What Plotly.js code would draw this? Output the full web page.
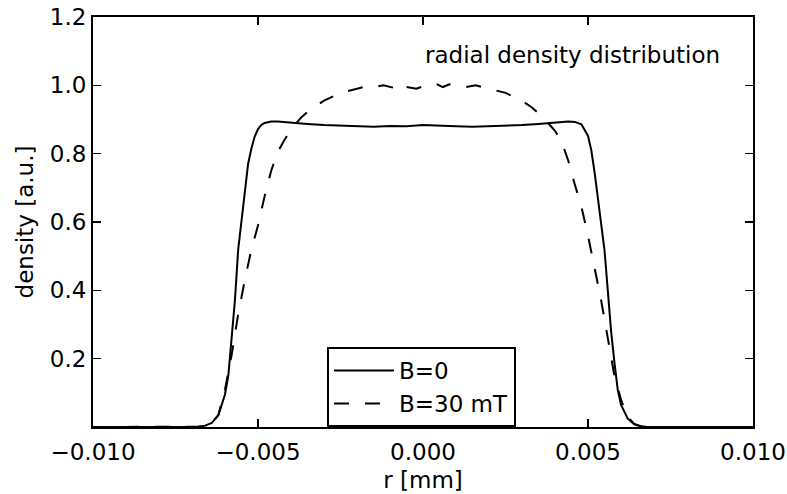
<!DOCTYPE html>
<html>
<head>
<meta charset="utf-8">
<script src="https://cdn.plot.ly/plotly-3.0.1.min.js"></script>
<style>html,body{margin:0;padding:0;background:#fff}#chart{width:787px;height:494px}</style>
</head>
<body>
<div id="chart"></div>
<script>
// B = 0 (solid)
var rB0 = [-0.0100,-0.0080,-0.0070,-0.0068,-0.0066,-0.0064,-0.0062,-0.0060,-0.0059,-0.0058,-0.0057,-0.0056,-0.0055,-0.0054,-0.0053,-0.0052,-0.0051,-0.0050,-0.0049,-0.0048,-0.0046,-0.0044,-0.0040,-0.0035,-0.0030,-0.0025,-0.0020,-0.0015,-0.0010,-0.0005,0.0000,0.0005,0.0010,0.0015,0.0020,0.0025,0.0030,0.0035,0.0040,0.0044,0.0046,0.0048,0.0050,0.0051,0.0052,0.0053,0.0054,0.0055,0.0056,0.0057,0.0058,0.0059,0.0060,0.0062,0.0064,0.0066,0.0068,0.0080,0.0100];
var densB0 = [0,0,0,0.001,0.004,0.012,0.035,0.095,0.15,0.26,0.37,0.52,0.61,0.70,0.77,0.815,0.85,0.872,0.884,0.890,0.894,0.894,0.890,0.887,0.884,0.882,0.880,0.879,0.881,0.880,0.884,0.881,0.880,0.879,0.880,0.882,0.884,0.887,0.891,0.894,0.893,0.886,0.852,0.81,0.745,0.67,0.59,0.518,0.40,0.28,0.19,0.11,0.065,0.025,0.008,0.002,0,0,0];

// B = 30 mT (dashed)
var rB30 = [-0.0100,-0.0070,-0.0068,-0.0066,-0.0064,-0.0062,-0.0060,-0.0058,-0.0056,-0.0054,-0.0052,-0.0050,-0.0048,-0.0046,-0.0044,-0.0042,-0.0040,-0.0037,-0.0034,-0.0030,-0.0025,-0.0020,-0.0017,-0.0015,-0.0012,-0.0009,-0.0007,-0.0005,-0.0002,0.0000,0.0002,0.0004,0.0006,0.0008,0.0010,0.0013,0.0016,0.0020,0.0025,0.0030,0.0033,0.0036,0.0040,0.0042,0.0044,0.0046,0.0048,0.0050,0.0052,0.0054,0.0056,0.0058,0.0060,0.0062,0.0064,0.0066,0.0068,0.0100];
var densB30 = [0,0,0.001,0.004,0.012,0.035,0.11,0.21,0.33,0.43,0.52,0.59,0.675,0.75,0.805,0.84,0.87,0.905,0.93,0.955,0.978,0.99,0.998,0.995,1.0,0.993,1.006,0.995,0.99,0.997,0.998,1.004,0.995,1.003,0.998,0.995,1.0,0.99,0.978,0.955,0.935,0.91,0.867,0.835,0.78,0.71,0.645,0.56,0.47,0.37,0.26,0.15,0.08,0.03,0.009,0.002,0,0];

var xTicks = [-0.010,-0.005,0.000,0.005,0.010];
var xTickText = ['\u22120.010','\u22120.005','0.000','0.005','0.010'];
var yTicks = [0.2,0.4,0.6,0.8,1.0,1.2];
var yTickText = ['0.2','0.4','0.6','0.8','1.0','1.2'];

var FONT = 'DejaVu Sans, sans-serif';
var FS = 23;
var traces = [
  {x: rB0, y: densB0, name: 'B=0', mode: 'lines', line: {color: '#000', width: 2}},
  {x: rB30, y: densB30, name: 'B=30 mT', mode: 'lines', line: {color: '#000', width: 2, dash: '15px,16px'}}
];
var axisCommon = {
  showgrid: false, zeroline: false, showline: true, linecolor: '#000', linewidth: 2,
  mirror: 'allticks', ticks: 'inside', ticklen: 8, tickwidth: 1.5, tickcolor: '#000',
  tickfont: {family: FONT, size: FS, color: '#000'}
};
var layout = {
  width: 787, height: 494,
  margin: {l: 93, r: 34, t: 17, b: 67},
  paper_bgcolor: '#fff', plot_bgcolor: '#fff',
  font: {family: FONT, size: FS, color: '#000'},
  xaxis: Object.assign({}, axisCommon, {
    range: [-0.010, 0.010], tickmode: 'array', tickvals: xTicks, ticktext: xTickText,
    ticklabelstandoff: 3,
    title: {text: 'r [mm]', font: {family: FONT, size: FS, color: '#000'}, standoff: 8}
  }),
  yaxis: Object.assign({}, axisCommon, {
    range: [0, 1.2], tickmode: 'array', tickvals: yTicks, ticktext: yTickText,
    title: {text: 'density [a.u.]', font: {family: FONT, size: FS, color: '#000'}, standoff: 10}
  }),
  showlegend: true,
  legend: {
    x: 0.3545, y: 0.195, xanchor: 'left', yanchor: 'top',
    bordercolor: '#000', borderwidth: 2, bgcolor: '#fff', itemwidth: 60,
    font: {family: FONT, size: FS, color: '#000'}
  },
  annotations: [{
    x: 0.0, y: 1.09, xref: 'x', yref: 'y', xanchor: 'left', yanchor: 'middle',
    text: 'radial density distribution', showarrow: false,
    font: {family: FONT, size: FS, color: '#000'}
  }]
};
Plotly.newPlot('chart', traces, layout, {staticPlot: true, displayModeBar: false});
</script>
</body>
</html>
